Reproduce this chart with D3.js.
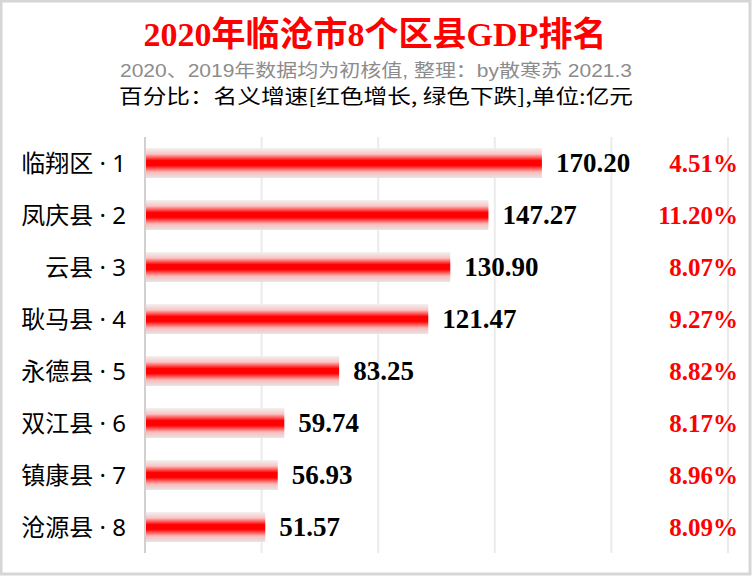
<!DOCTYPE html>
<html>
<head>
<meta charset="utf-8">
<script src="https://cdn.jsdelivr.net/npm/d3@7"></script>
<style>
  body { margin: 0; background: #fff; }
  svg { display: block; }
</style>
</head>
<body>
<script>
// data
var counties = ["临翔区", "凤庆县", "云县", "耿马县", "永德县", "双江县", "镇康县", "沧源县"];
var gdp = [170.20, 147.27, 130.90, 121.47, 83.25, 59.74, 56.93, 51.57];
var growth = ["4.51%", "11.20%", "8.07%", "9.27%", "8.82%", "8.17%", "8.96%", "8.09%"];
var ticks = [0, 50, 100, 150, 200, 250];

var width = 752, height = 576;
var plotLeft = 145, plotRight = 728, plotTop = 137, plotBottom = 553;

var svg = d3.select("body").append("svg")
    .attr("width", width)
    .attr("height", height);

// frame
svg.append("rect")
    .attr("x", 1).attr("y", 1)
    .attr("width", width - 3).attr("height", height - 3)
    .attr("fill", "#fff")
    .attr("stroke", "#d6d6d6")
    .attr("stroke-width", 3);

// titles
svg.append("text")
    .attr("x", 375).attr("y", 46)
    .attr("text-anchor", "middle")
    .style("font-family", "'Liberation Serif', 'Noto Sans CJK SC', serif")
    .style("font-weight", "bold")
    .style("font-size", "34px")
    .attr("fill", "#ff0000")
    .text("2020年临沧市8个区县GDP排名");

// the source stretches these two lines sideways
svg.append("text")
    .attr("x", 120).attr("y", 77)
    .attr("textLength", 512)
    .attr("lengthAdjust", "spacingAndGlyphs")
    .style("font-family", "'Liberation Sans', 'Noto Sans CJK SC', sans-serif")
    .style("font-size", "18px")
    .attr("fill", "#8c8c8c")
    .text("2020、2019年数据均为初核值, 整理：by散寒苏  2021.3");

svg.append("text")
    .attr("x", 119).attr("y", 104)
    .attr("textLength", 514)
    .attr("lengthAdjust", "spacingAndGlyphs")
    .style("font-family", "'Noto Sans CJK SC', sans-serif")
    .style("font-size", "20px")
    .attr("fill", "#000")
    .text("百分比：名义增速[红色增长, 绿色下跌],单位:亿元");

var x = d3.scaleLinear()
    .domain([0, 250])
    .range([plotLeft, plotRight]);

var y = d3.scaleBand()
    .domain(counties)
    .range([plotTop, plotBottom]);

// gradient for bars
var grad = svg.append("defs").append("linearGradient")
    .attr("id", "barGrad")
    .attr("x1", 0).attr("y1", 0).attr("x2", 0).attr("y2", 1);
[[0, "#f2f2f2"], [0.2, "#fbc4c4"], [0.42, "#ff0000"], [0.58, "#ff0000"], [0.8, "#fbb8b8"], [1, "#e6e6e6"]]
  .forEach(s => grad.append("stop").attr("offset", s[0]).attr("stop-color", s[1]));

// grid
svg.append("g")
    .selectAll("line")
    .data(ticks.slice(1))
  .enter().append("line")
    .attr("x1", d => x(d)).attr("x2", d => x(d))
    .attr("y1", plotTop).attr("y2", plotBottom)
    .attr("stroke", "#ebebeb")
    .attr("stroke-width", 2);

// bars
var barH = 30;
svg.append("g")
    .selectAll("rect")
    .data(gdp)
  .enter().append("rect")
    .attr("x", x(0))
    .attr("y", (d, i) => y(counties[i]) + y.bandwidth() / 2 - barH / 2)
    .attr("width", d => x(d) - x(0))
    .attr("height", barH)
    .attr("fill", "url(#barGrad)");

// axis line
svg.append("line")
    .attr("x1", x(0)).attr("x2", x(0))
    .attr("y1", plotTop).attr("y2", plotBottom)
    .attr("stroke", "#d0d0d0")
    .attr("stroke-width", 2);

// category labels
svg.append("g")
    .selectAll("text")
    .data(counties)
  .enter().append("text")
    .attr("x", 126)
    .attr("y", d => y(d) + y.bandwidth() / 2)
    .attr("dy", "0.36em")
    .attr("text-anchor", "end")
    .style("font-family", "'Noto Sans', 'Noto Sans CJK SC', sans-serif")
    .style("font-size", "24px")
    .attr("fill", "#000")
    .text((d, i) => d + " · " + (i + 1));

// value labels
svg.append("g")
    .selectAll("text")
    .data(gdp)
  .enter().append("text")
    .attr("x", d => x(d) + 14)
    .attr("y", (d, i) => y(counties[i]) + y.bandwidth() / 2)
    .attr("dy", "0.34em")
    .style("font-family", "'Liberation Serif', serif")
    .style("font-weight", "bold")
    .style("font-size", "27px")
    .attr("fill", "#000")
    .text(d => d.toFixed(2));

// growth labels
svg.append("g")
    .selectAll("text")
    .data(growth)
  .enter().append("text")
    .attr("x", 738)
    .attr("y", (d, i) => y(counties[i]) + y.bandwidth() / 2)
    .attr("dy", "0.34em")
    .attr("text-anchor", "end")
    .style("font-family", "'Liberation Serif', serif")
    .style("font-weight", "bold")
    .style("font-size", "25px")
    .attr("fill", "#ff0000")
    .text(d => d);
</script>
</body>
</html>
